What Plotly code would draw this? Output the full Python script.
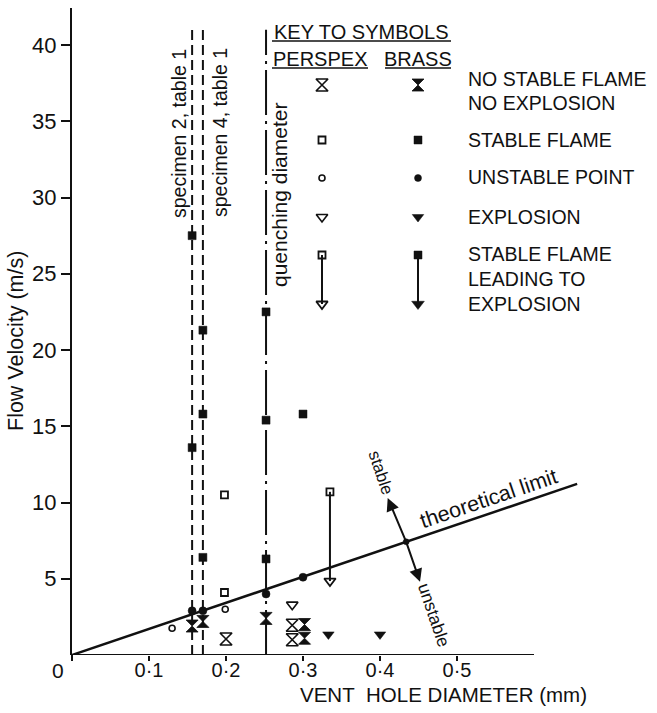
import plotly.graph_objects as go

# ---------------- data ----------------
slope = 17.1                     # theoretical limit (m/s per mm)
theory_x = [0.0, 0.656]

specimen_x = [0.156, 0.170]      # specimen 2 / specimen 4 (table 1)
quench_x = [0.252]               # quenching diameter
ref_line_top = 41.0

brass_stable_x = [0.156, 0.170, 0.252, 0.170, 0.156, 0.252, 0.300, 0.170, 0.252]
brass_stable_y = [27.5, 21.3, 22.5, 15.8, 13.6, 15.4, 15.8, 6.4, 6.3]

perspex_stable_x = [0.198, 0.198]
perspex_stable_y = [10.5, 4.1]

brass_unstable_x = [0.156, 0.170, 0.252, 0.300]
brass_unstable_y = [2.9, 2.9, 4.0, 5.1]

perspex_unstable_x = [0.130, 0.199]
perspex_unstable_y = [1.75, 3.0]

brass_noflame_x = [0.156, 0.170, 0.252, 0.302, 0.302]
brass_noflame_y = [1.9, 2.2, 2.4, 2.0, 1.1]

perspex_noflame_x = [0.200, 0.286, 0.286]
perspex_noflame_y = [1.05, 1.95, 1.0]

perspex_expl_x = [0.286]
perspex_expl_y = [3.3]

brass_expl_x = [0.333, 0.400]
brass_expl_y = [1.35, 1.35]

perspex_lead_x = [0.335, 0.335]
perspex_lead_y = [10.7, 4.85]

pivot_x = 0.434
stable_head = (0.410, 10.3)
unstable_head = (0.452, 4.8)

x_ticks = [0, 0.1, 0.2, 0.3, 0.4, 0.5]
x_ticktext = ["", "0·1", "0·2", "0·3", "0·4", "0·5"]
y_ticks = [5, 10, 15, 20, 25, 30, 35, 40]

legend_labels = [["NO STABLE FLAME", "NO EXPLOSION"], ["STABLE FLAME"], ["UNSTABLE POINT"],
                 ["EXPLOSION"], ["STABLE FLAME", "LEADING TO", "EXPLOSION"]]

# ---------------- layout constants ----------------
W, H = 657, 713
ML, MR, MT, MB = 72, 0, 8, 58
PX_X = 770.0     # px per mm
PX_Y = 15.25     # px per m/s
FONT = "Liberation Sans"
INK = "#111111"
PW, PH = W - ML - MR, H - MT - MB

def px(x):  # page pixel -> paper
    return (x - ML) / PW

def py(y):
    return (H - MB - y) / PH

fig = go.Figure()

def sc(x, y, sym, size, lw=1.6, mode="markers", xa="x", ya="y"):
    fig.add_trace(go.Scatter(
        x=x, y=y, mode=mode, xaxis=xa, yaxis=ya,
        line=dict(color=INK, width=2),
        marker=dict(symbol=sym, size=size, color=INK, opacity=1,
                    line=dict(color=INK, width=lw)),
        showlegend=False, hoverinfo="skip", cliponaxis=False))

# theoretical limit
fig.add_trace(go.Scatter(x=theory_x, y=[slope * v for v in theory_x], mode="lines",
                         line=dict(color=INK, width=2.5), showlegend=False, hoverinfo="skip"))

# reference vertical lines
for xv in specimen_x:
    fig.add_trace(go.Scatter(x=[xv, xv], y=[0, ref_line_top], mode="lines",
                             line=dict(color=INK, width=2, dash="10px,5px"),
                             showlegend=False, hoverinfo="skip"))
for xv in quench_x:
    fig.add_trace(go.Scatter(x=[xv, xv], y=[0, ref_line_top], mode="lines",
                             line=dict(color=INK, width=2, dash="45px,6px,3px,6px"),
                             showlegend=False, hoverinfo="skip"))

# data markers
sc(brass_stable_x, brass_stable_y, "square", 8, lw=0.5)
sc(perspex_stable_x, perspex_stable_y, "square-open", 7, lw=1.8)
sc(brass_unstable_x, brass_unstable_y, "circle", 8, lw=0.5)
sc(perspex_unstable_x, perspex_unstable_y, "circle-open", 6, lw=1.6)
sc(brass_noflame_x, brass_noflame_y, "hourglass", 12, lw=0.8)
sc(perspex_noflame_x, perspex_noflame_y, "hourglass-open", 12, lw=1.6)
sc(perspex_expl_x, perspex_expl_y, "triangle-down-open", 10, lw=1.6)
sc(brass_expl_x, brass_expl_y, "triangle-down", 10, lw=0.5)
sc(perspex_lead_x, perspex_lead_y, ["square-open", "triangle-down-open"], [7, 10],
   lw=1.8, mode="lines+markers")
sc([pivot_x], [slope * pivot_x], "circle", 6, lw=0.5)

# ---------------- key (pixel-space overlay axes) ----------------
KEY_PX = 322
KEY_BR = 418
KEY_ROWS = [85, 140, 178, 217]
sc([KEY_PX], [KEY_ROWS[0]], "hourglass-open", 12, lw=1.6, xa="x2", ya="y2")
sc([KEY_BR], [KEY_ROWS[0]], "hourglass", 12, lw=0.8, xa="x2", ya="y2")
sc([KEY_PX], [KEY_ROWS[1]], "square-open", 7, lw=1.8, xa="x2", ya="y2")
sc([KEY_BR], [KEY_ROWS[1]], "square", 8, lw=0.5, xa="x2", ya="y2")
sc([KEY_PX], [KEY_ROWS[2]], "circle-open", 6, lw=1.6, xa="x2", ya="y2")
sc([KEY_BR], [KEY_ROWS[2]], "circle", 7, lw=0.5, xa="x2", ya="y2")
sc([KEY_PX], [KEY_ROWS[3]], "triangle-down-open", 10, lw=1.6, xa="x2", ya="y2")
sc([KEY_BR], [KEY_ROWS[3]], "triangle-down", 10, lw=0.5, xa="x2", ya="y2")
sc([KEY_PX, KEY_PX], [255, 304], ["square-open", "triangle-down-open"], [7, 10],
   lw=1.8, mode="lines+markers", xa="x2", ya="y2")
sc([KEY_BR, KEY_BR], [255, 304], ["square", "triangle-down"], [8, 11],
   lw=0.5, mode="lines+markers", xa="x2", ya="y2")

ann = []
def txt(x, y, s, size, angle=0, xanchor="center"):
    ann.append(dict(x=px(x), y=py(y), xref="paper", yref="paper", text=s, showarrow=False,
                    textangle=angle, xanchor=xanchor, yanchor="middle",
                    font=dict(family=FONT, size=size, color=INK)))

txt(361, 32, "KEY TO SYMBOLS", 20)
txt(320, 59, "PERSPEX", 20)
txt(418, 59, "BRASS", 20)
rows_y = [[79, 103], [140], [177], [217], [254, 279, 304]]
for labels, ys in zip(legend_labels, rows_y):
    for lab, yy in zip(labels, ys):
        txt(466, yy, lab, 19.5, xanchor="left")

txt(179, 134, "specimen 2, table 1", 19.5, angle=-90)
txt(220, 133, "specimen 4, table 1", 19.5, angle=-90)
txt(280, 195, "quenching diameter", 21, angle=-90)
txt(488, 499, "theoretical limit", 21.5, angle=-18.7)
txt(381, 472, "stable", 17, angle=71.3)
txt(434, 615, "unstable", 17.5, angle=71.3)
txt(16, 341, "Flow Velocity (m/s)", 21.5, angle=-90)
txt(443, 694, "VENT\u00a0 HOLE DIAMETER (mm)", 20.5)
txt(58, 670, "0", 21)

# stable / unstable arrows
for hx, hy in [stable_head, unstable_head]:
    ann.append(dict(x=hx, y=hy, ax=pivot_x, ay=slope * pivot_x, xref="x", yref="y",
                    axref="x", ayref="y", text="", showarrow=True, arrowhead=2,
                    arrowsize=1.3, arrowwidth=2, arrowcolor=INK))

shapes = [
    # x axis line (only to 0.6)
    dict(type="line", xref="x", yref="y", x0=0, x1=0.6, y0=0, y1=0,
         line=dict(color=INK, width=2)),
    # small extension of y axis below origin
    dict(type="line", xref="paper", yref="paper", x0=0, x1=0, y0=py(655), y1=py(661),
         line=dict(color=INK, width=2)),
    # key underlines
    dict(type="line", xref="paper", yref="paper", x0=px(272), x1=px(451), y0=py(41), y1=py(41),
         line=dict(color=INK, width=1.6)),
    dict(type="line", xref="paper", yref="paper", x0=px(272), x1=px(368), y0=py(68), y1=py(68),
         line=dict(color=INK, width=1.6)),
    dict(type="line", xref="paper", yref="paper", x0=px(385), x1=px(451), y0=py(68), y1=py(68),
         line=dict(color=INK, width=1.6)),
]

fig.update_layout(
    width=W, height=H,
    margin=dict(l=ML, r=MR, t=MT, b=MB, pad=0),
    paper_bgcolor="white", plot_bgcolor="white",
    font=dict(family=FONT, color=INK),
    showlegend=False,
    xaxis=dict(range=[0, PW / PX_X], showgrid=False, zeroline=False,
               showline=False, tickvals=x_ticks, ticktext=x_ticktext,
               ticks="outside", ticklen=5, tickwidth=2, tickcolor=INK,
               ticklabelstandoff=-8,
               tickfont=dict(family=FONT, size=20, color=INK), fixedrange=True),
    yaxis=dict(range=[0, PH / PX_Y], showgrid=False, zeroline=False,
               showline=True, linewidth=2, linecolor=INK, tickvals=y_ticks,
               ticks="outside", ticklen=9, tickwidth=2, tickcolor=INK,
               tickfont=dict(family=FONT, size=22, color=INK), fixedrange=True),
    xaxis2=dict(range=[ML, W - MR], overlaying="x", anchor="y2", visible=False,
                fixedrange=True),
    yaxis2=dict(range=[H - MB, MT], overlaying="y", anchor="x2", visible=False,
                fixedrange=True),
    annotations=ann,
    shapes=shapes,
)

fig.write_html("out.html")
